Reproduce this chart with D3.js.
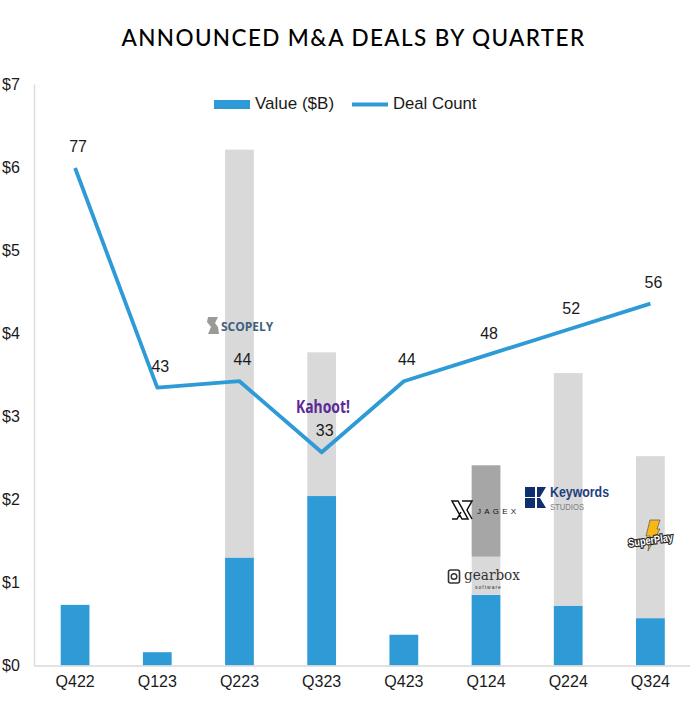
<!DOCTYPE html>
<html>
<head>
<meta charset="utf-8">
<script src="https://cdnjs.cloudflare.com/ajax/libs/d3/7.8.5/d3.min.js"></script>
<style>
  html, body { margin: 0; padding: 0; background: #fff; }
  text { font-family: "Liberation Sans", Arial, sans-serif; fill: #1a1a1a; }
</style>
</head>
<body>
<svg id="chart" width="690" height="710"></svg>
<script>
const width = 690;
const height = 710;
const margin = { top: 84, right: -1.5, bottom: 44.5, left: 34 };

const quarters = ["Q422", "Q123", "Q223", "Q323", "Q423", "Q124", "Q224", "Q324"];
const valueBlue = [0.73, 0.16, 1.3, 2.04, 0.37, 0.85, 0.72, 0.57];
const valueLightGrey = [0, 0, 4.91, 1.73, 0, 0.46, 2.8, 1.95];
const valueDarkGrey = [0, 0, 0, 0, 0, 1.1, 0, 0];
const dealCount = [77, 43, 44, 33, 44, 48, 52, 56];
const valueTicks = [0, 1, 2, 3, 4, 5, 6, 7];

const blue = "#2e9bd6";
const lightGrey = "#d9d9d9";
const darkGrey = "#a6a6a6";
const fontSize = "16px";

const svg = d3.select("#chart");

const x = d3.scaleBand()
  .domain(quarters)
  .range([margin.left, width - margin.right])
  .paddingInner(0.65)
  .paddingOuter(0.325);

const y = d3.scaleLinear()
  .domain([0, 7])
  .range([height - margin.bottom, margin.top]);

// count line sits on a hidden second axis
const yCount = d3.scaleLinear()
  .domain([0, 90])
  .range([height - margin.bottom, margin.top]);

const center = (q) => x(q) + x.bandwidth() / 2;

svg.append("text")
  .attr("x", 353.5)
  .attr("y", 46)
  .attr("text-anchor", "middle")
  .style("font-family", "Lato, sans-serif")
  .style("font-size", "22.5px")
  .style("font-weight", 500)
  .style("letter-spacing", "1.4px")
  .style("fill", "#000")
  .text("ANNOUNCED M&A DEALS BY QUARTER");

// stacked bars
const stacks = [
  { values: valueBlue, fill: blue },
  { values: valueLightGrey, fill: lightGrey },
  { values: valueDarkGrey, fill: darkGrey },
];
const base = quarters.map(() => 0);
stacks.forEach((s) => {
  svg.append("g")
    .selectAll("rect")
    .data(quarters)
    .join("rect")
    .attr("x", (q) => x(q))
    .attr("width", x.bandwidth())
    .attr("y", (q, i) => y(base[i] + s.values[i]))
    .attr("height", (q, i) => y(base[i]) - y(base[i] + s.values[i]))
    .attr("fill", s.fill);
  s.values.forEach((v, i) => { base[i] += v; });
});

// axes
const xAxis = svg.append("g")
  .attr("transform", `translate(0, ${height - margin.bottom})`)
  .call(d3.axisBottom(x).tickSize(0).tickPadding(10));
xAxis.select(".domain").attr("stroke", "#d9d9d9").attr("stroke-width", 1.3);
xAxis.selectAll("text").style("font-size", fontSize);

const yAxis = svg.append("g")
  .attr("transform", `translate(${margin.left}, 0)`)
  .call(d3.axisLeft(y).tickValues(valueTicks).tickFormat((d) => "$" + d).tickSize(0));
yAxis.select(".domain").attr("stroke", "#d9d9d9").attr("stroke-width", 1.3);
yAxis.selectAll("text").attr("text-anchor", "start").attr("x", -32).style("font-size", fontSize);

// deal count line
const line = d3.line()
  .x((d, i) => center(quarters[i]))
  .y((d) => yCount(d));

svg.append("path")
  .datum(dealCount)
  .attr("d", line)
  .attr("fill", "none")
  .attr("stroke", blue)
  .attr("stroke-width", 3.8)
  .attr("stroke-linejoin", "round");

svg.append("g")
  .selectAll("text")
  .data(dealCount)
  .join("text")
  .attr("x", (d, i) => center(quarters[i]) + 3)
  .attr("y", (d) => yCount(d) - 16)
  .attr("text-anchor", "middle")
  .style("font-size", fontSize)
  .text((d) => d);

// legend
const legend = svg.append("g");
legend.append("rect").attr("x", 214).attr("y", 100).attr("width", 36).attr("height", 9).attr("fill", blue);
legend.append("text").attr("x", 255).attr("y", 109).style("font-size", "17px").text("Value ($B)");
legend.append("line").attr("x1", 352).attr("x2", 388).attr("y1", 104.5).attr("y2", 104.5)
  .attr("stroke", blue).attr("stroke-width", 3.8);
legend.append("text").attr("x", 393).attr("y", 109).style("font-size", "16.7px").text("Deal Count");

// company logos, drawn as text with simple marks
const logos = svg.append("g");

// Scopely
logos.append("path")
  .attr("d", "M208,317 h10 l-3,6 l3,4 l1,7 h-11 l3,-7 l-4,-5 z")
  .attr("fill", "#9a9a9a");
logos.append("text").attr("x", 221).attr("y", 331)
  .style("font-size", "12px").style("font-weight", 700).style("fill", "#3f5f7f")
  .style("font-family", "'Open Sans', sans-serif").text("SCOPELY");

// Kahoot
logos.append("text").attr("x", 296).attr("y", 413)
  .style("font-size", "17px").style("font-weight", 700).style("fill", "#5c2a96")
  .style("font-family", "'Noto Sans', sans-serif")
  .attr("textLength", 54).attr("lengthAdjust", "spacingAndGlyphs").text("Kahoot!");

// Jagex
logos.append("path")
  .attr("d", "M452,501 h6 l10,18 h-6 z M462,501 h10 l-5,9 l5,9 M452,519 h5 l4,-7")
  .attr("fill", "none").attr("stroke", "#111").attr("stroke-width", 1.5);
logos.append("text").attr("x", 477).attr("y", 514)
  .style("font-size", "8px").style("letter-spacing", "3.2px").style("font-weight", 500).style("fill", "#111")
  .text("JAGEX");

// Gearbox
logos.append("rect").attr("x", 448.5).attr("y", 570).attr("width", 11).attr("height", 13).attr("rx", 2)
  .attr("fill", "none").attr("stroke", "#333").attr("stroke-width", 1.6);
logos.append("circle").attr("cx", 454).attr("cy", 576.5).attr("r", 2.8)
  .attr("fill", "none").attr("stroke", "#333").attr("stroke-width", 1.4);
logos.append("text").attr("x", 464).attr("y", 580)
  .style("font-size", "14px").style("fill", "#333").style("font-family", "'DejaVu Serif', serif")
  .attr("textLength", 56).attr("lengthAdjust", "spacingAndGlyphs").text("gearbox");
logos.append("text").attr("x", 475).attr("y", 588.5)
  .style("font-size", "5px").style("letter-spacing", "1px").style("fill", "#333").text("software");

// Keywords Studios
logos.append("path")
  .attr("d", "M525,487 h10 v10 h-10 z M525,498 h10 v10 h-10 z M537,487 h9 l-6,10 h-3 z M537,498 h3 l6,10 h-9 z")
  .attr("fill", "#0f2f6f");
logos.append("text").attr("x", 550).attr("y", 497)
  .style("font-size", "14px").style("font-weight", 700).style("fill", "#1c3f7c")
  .attr("textLength", 59).attr("lengthAdjust", "spacingAndGlyphs").text("Keywords");
logos.append("text").attr("x", 550).attr("y", 510)
  .style("font-size", "9.5px").style("fill", "#808080")
  .attr("textLength", 34).attr("lengthAdjust", "spacingAndGlyphs").text("STUDIOS");

// SuperPlay
logos.append("path")
  .attr("d", "M650,520 l10,0 l-3,9 l3,0 l-12,22 l2,-15 l-4,0 z")
  .attr("fill", "#f7b815").attr("stroke", "#555").attr("stroke-width", 0.7);
logos.append("text").attr("x", 628).attr("y", 544)
  .attr("transform", "rotate(-8 650 540)")
  .style("font-size", "11px").style("font-weight", 700)
  .style("fill", "#fff").style("stroke", "#222").style("stroke-width", 2.4).style("paint-order", "stroke")
  .attr("textLength", 45).attr("lengthAdjust", "spacingAndGlyphs").text("SuperPlay");
</script>
</body>
</html>
